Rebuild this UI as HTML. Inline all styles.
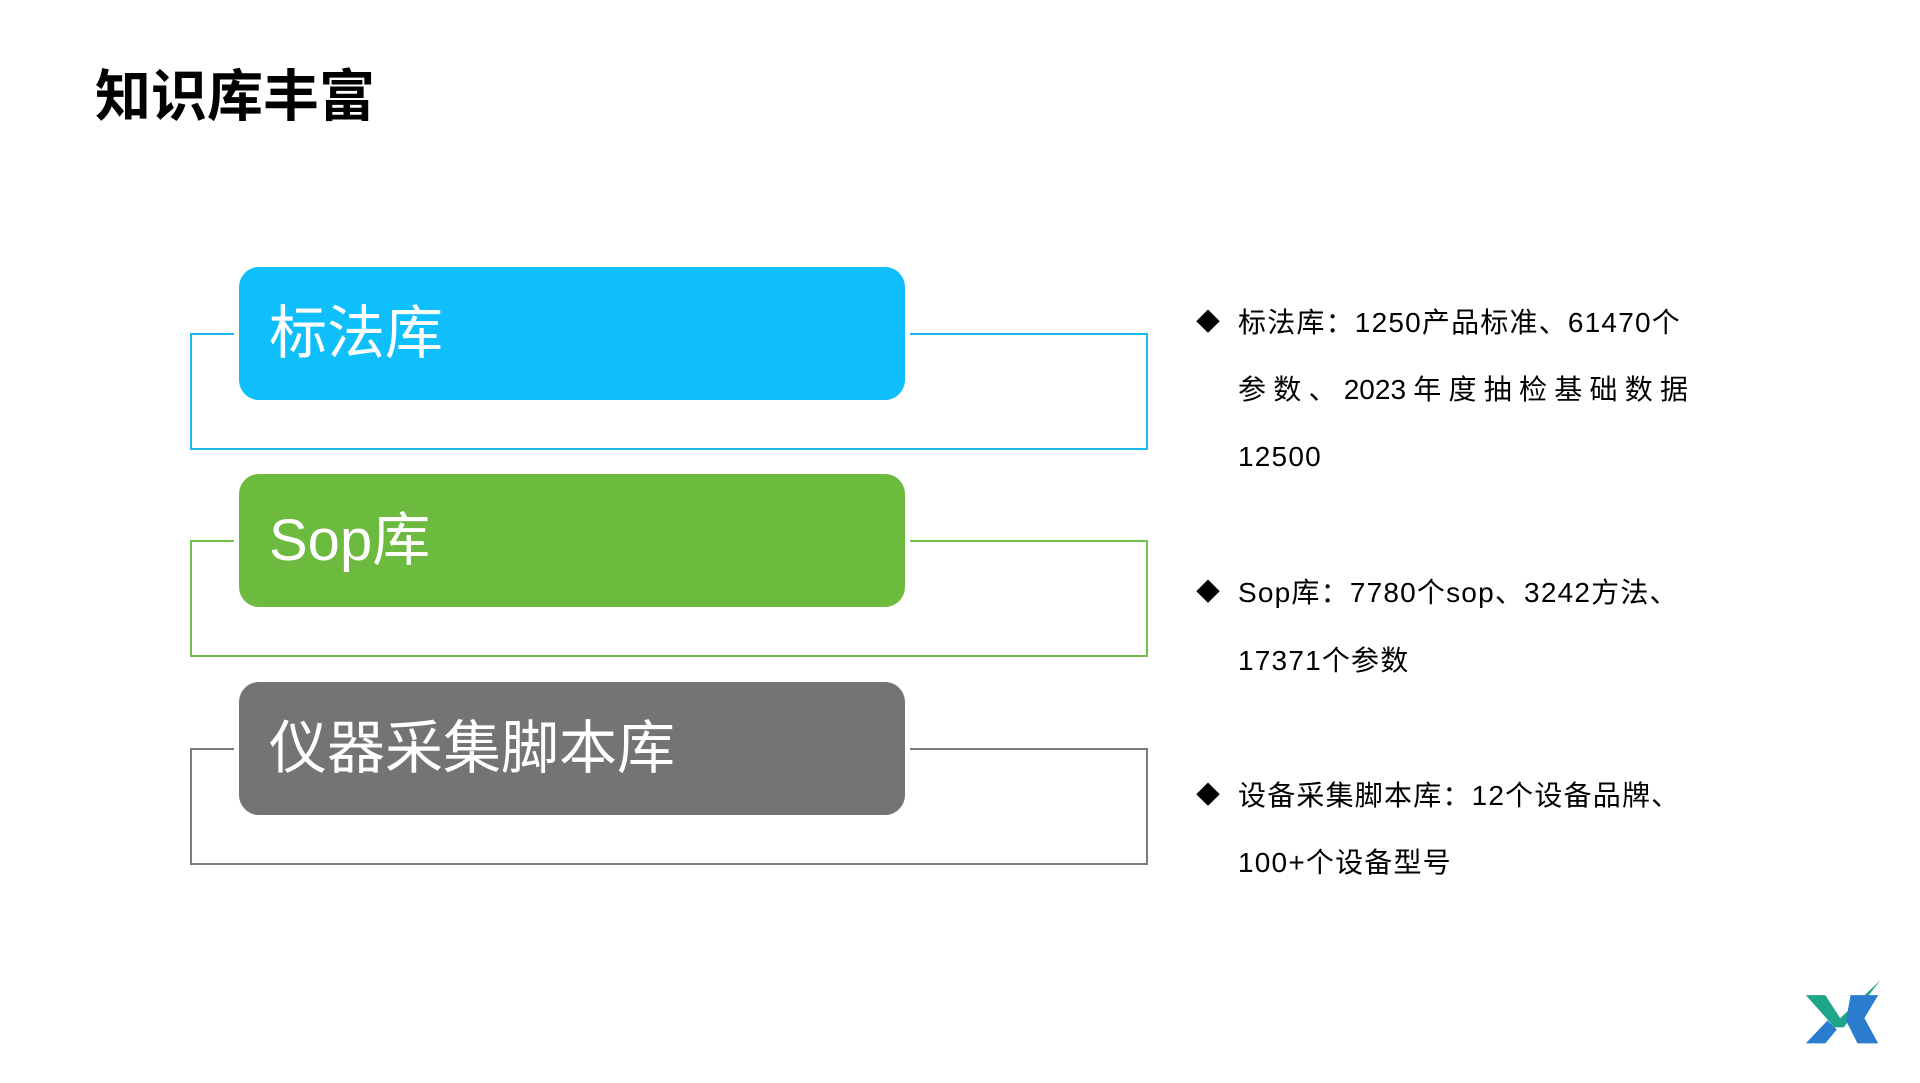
<!DOCTYPE html>
<html><head><meta charset="utf-8"><style>
body{margin:0;width:1920px;height:1083px;background:#fff;position:relative;overflow:hidden;font-family:"Liberation Sans","Noto Sans CJK SC",sans-serif}
.t{position:absolute;left:95px;top:62px;font-size:56px;font-weight:bold;color:#000;line-height:70px}
.o{position:absolute;border:2px solid;box-sizing:border-box}
.b{position:absolute;left:239px;width:666px;height:133px;border-radius:20px;color:#fff;font-size:58px;line-height:133px;padding-left:30px;box-sizing:border-box}
.l{position:absolute;left:1238px;font-size:28px;line-height:40px;color:#000;white-space:nowrap;letter-spacing:1.2px}
.d{position:absolute;left:1196px;font-size:24px;line-height:40px}
.j{text-align:justify;text-align-last:justify;width:450px;letter-spacing:0}
</style></head><body>
<div class="t">知识库丰富</div>

<div class="o" style="left:190px;top:333px;width:958px;height:117px;border-color:#1ab8ec"></div>
<div class="b" style="top:267px;background:#0fbffc;box-shadow:0 0 0 5px #fff">标法库</div>

<div class="o" style="left:190px;top:540px;width:958px;height:117px;border-color:#72c04a"></div>
<div class="b" style="top:474px;background:#6cbb3f;box-shadow:0 0 0 5px #fff">Sop库</div>

<div class="o" style="left:190px;top:748px;width:958px;height:117px;border-color:#7a7a7a"></div>
<div class="b" style="top:682px;background:#747474;box-shadow:0 0 0 5px #fff">仪器采集脚本库</div>

<div class="d" style="top:303px">◆</div>
<div class="l" style="top:303px">标法库：1250产品标准、61470个</div>
<div class="l j" style="top:370px">参数、2023年度抽检基础数据</div>
<div class="l" style="top:437px">12500</div>

<div class="d" style="top:573px">◆</div>
<div class="l" style="top:573px">Sop库：7780个sop、3242方法、</div>
<div class="l" style="top:641px">17371个参数</div>

<div class="d" style="top:776px">◆</div>
<div class="l" style="top:776px">设备采集脚本库：12个设备品牌、</div>
<div class="l" style="top:843px">100+个设备型号</div>

<svg style="position:absolute;left:1800px;top:972px" width="92" height="75" viewBox="0 0 80 65">
<polygon points="5,20 22,20 35,40 70,7 38,48 30,48" fill="#1fa58a"/>
<polygon points="5,62 22,62 32,50 24,42" fill="#2a7ccc"/>
<polygon points="44,20 68,20 56,40 68,62 50,62 40,42" fill="#2a7ccc"/>
</svg>
</body></html>
